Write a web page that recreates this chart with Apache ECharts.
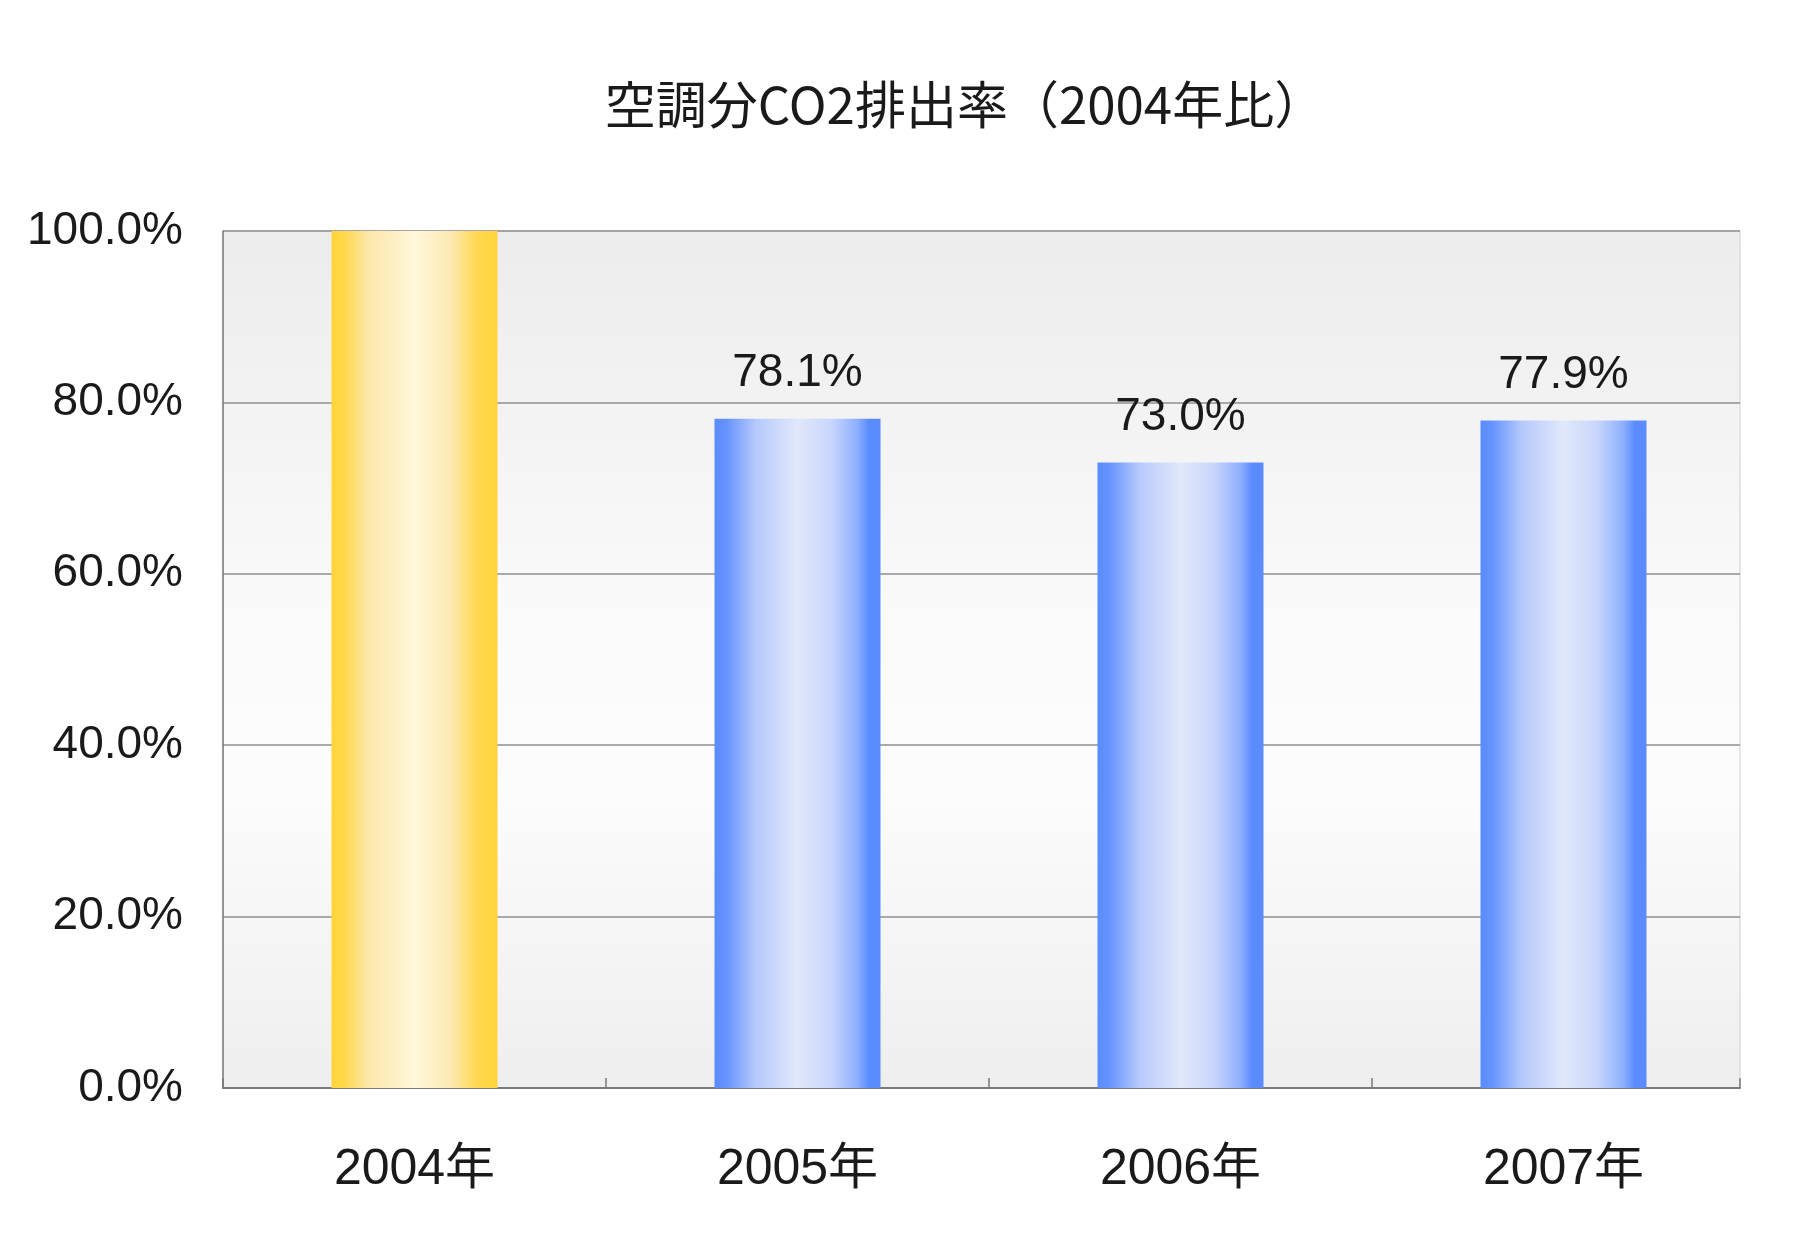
<!DOCTYPE html>
<html>
<head>
<meta charset="utf-8">
<script src="https://cdn.jsdelivr.net/npm/echarts@6/dist/echarts.min.js"></script>
<style>
  html, body { margin: 0; padding: 0; background: #fff; }
  #chart { width: 1800px; height: 1238px; }
</style>
</head>
<body>
<div id="chart"></div>
<script>
const titleText = '空調分CO2排出率（2004年比）'
const categories = ['2004年', '2005年', '2006年', '2007年']
const rates = [100, 78.1, 73.0, 77.9]
const showValueLabel = [false, true, true, true]
const yTicks = [0, 20, 40, 60, 80, 100]

// layout
const plotLeft = 223
const plotTop = 231
const plotHeight = 857
const frameWidth = 1517
const bandWidth = 383

const grad = (stops) => new echarts.graphic.LinearGradient(0, 0, 1, 0,
  stops.map(([offset, color]) => ({ offset, color })))

const yellowBar = grad([
  [0, '#ffd43a'], [0.08, '#ffd84c'], [0.22, '#fce7a9'], [0.5, '#fff7dc'],
  [0.72, '#fde9b2'], [0.88, '#ffd84f'], [1, '#ffd43a']
])
const blueBar = grad([
  [0, '#5a8cff'], [0.07, '#6593ff'], [0.25, '#b6c9fb'], [0.5, '#e1e8fb'],
  [0.7, '#c9d6fb'], [0.86, '#8eafff'], [0.93, '#5a8cff'], [1, '#5a8cff']
])

const chart = echarts.init(document.getElementById('chart'))
chart.setOption({
  animation: false,
  backgroundColor: '#fff',
  textStyle: { fontFamily: '"Liberation Sans", "Noto Sans CJK JP", sans-serif' },
  title: {
    text: titleText,
    left: 960,
    top: 74,
    textAlign: 'center',
    textStyle: {
      fontFamily: '"Noto Sans CJK JP", sans-serif',
      fontSize: 51,
      fontWeight: 'normal',
      color: '#1a1a1a'
    }
  },
  grid: [
    {
      left: plotLeft, top: plotTop, width: frameWidth, height: plotHeight,
      show: true,
      borderColor: '#cfcfcf',
      borderWidth: 1,
      backgroundColor: new echarts.graphic.LinearGradient(0, 0, 0, 1, [
        { offset: 0, color: '#ececec' },
        { offset: 0.45, color: '#fafafa' },
        { offset: 0.65, color: '#fcfcfc' },
        { offset: 1, color: '#eeeeee' }
      ])
    },
    { left: plotLeft, top: plotTop, width: bandWidth * categories.length, height: plotHeight }
  ],
  xAxis: [
    {
      gridIndex: 0,
      type: 'value',
      min: 0,
      max: frameWidth / bandWidth,
      interval: 1,
      axisLine: { show: true, lineStyle: { color: '#7a7a7a', width: 2 } },
      axisTick: { show: true, inside: true, length: 10, lineStyle: { color: '#7a7a7a', width: 1.5 } },
      axisLabel: { show: false },
      splitLine: { show: false }
    },
    {
      gridIndex: 1,
      type: 'category',
      data: categories,
      axisLine: { show: false },
      axisTick: { show: false },
      axisLabel: {
        margin: 57,
        fontSize: 50,
        color: '#1a1a1a'
      }
    }
  ],
  yAxis: [
    {
      gridIndex: 0,
      type: 'value',
      min: yTicks[0],
      max: yTicks[yTicks.length - 1],
      interval: 20,
      axisLine: { show: true, lineStyle: { color: '#7a7a7a', width: 1.5 } },
      axisTick: { show: false },
      axisLabel: {
        margin: 40,
        fontSize: 46,
        color: '#1a1a1a',
        padding: [6, 0, 0, 0],
        formatter: v => v.toFixed(1) + '%'
      },
      splitLine: { show: true, lineStyle: { color: '#8f8f8f', width: 1.5 } }
    },
    {
      gridIndex: 1,
      type: 'value',
      min: yTicks[0],
      max: yTicks[yTicks.length - 1],
      show: false,
      splitLine: { show: false }
    }
  ],
  series: [{
    type: 'bar',
    xAxisIndex: 1,
    yAxisIndex: 1,
    barWidth: 166,
    z: 3,
    label: {
      position: 'top',
      distance: 22,
      fontSize: 46,
      color: '#1a1a1a',
      formatter: p => p.value.toFixed(1) + '%'
    },
    data: rates.map((v, i) => ({
      value: v,
      itemStyle: { color: i === 0 ? yellowBar : blueBar },
      label: { show: showValueLabel[i] }
    }))
  }]
})

window.addEventListener('resize', () => chart.resize())
</script>
</body>
</html>
